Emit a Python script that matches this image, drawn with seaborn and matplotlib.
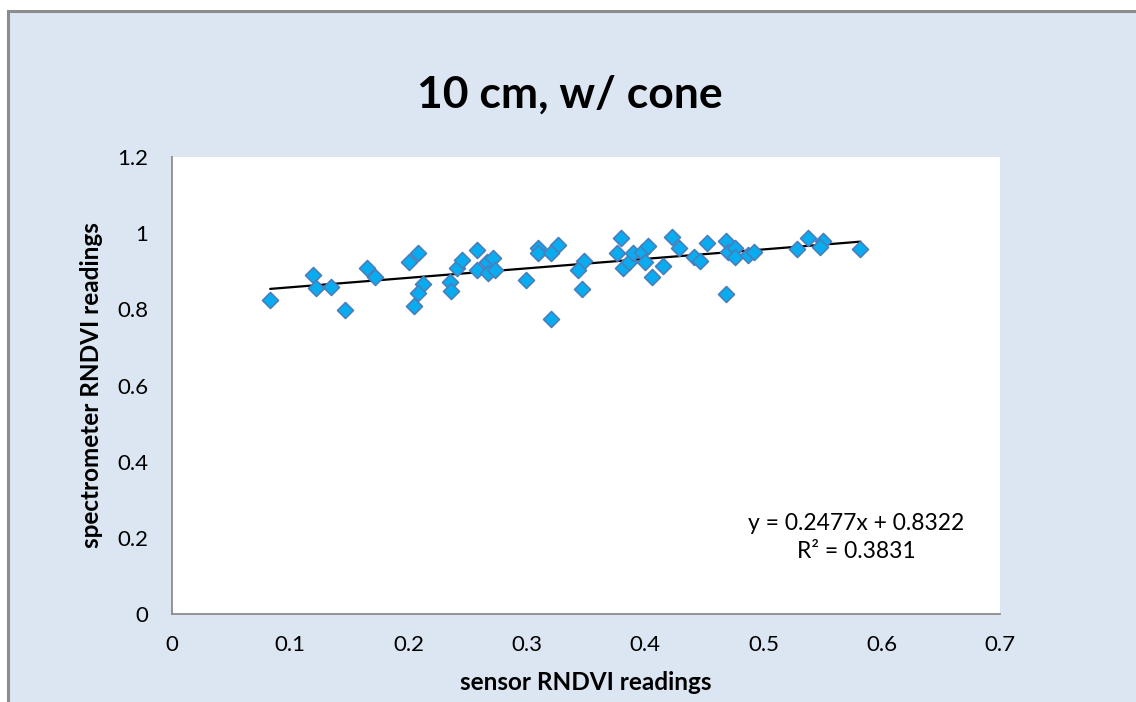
import matplotlib
matplotlib.use("Agg")
import matplotlib.pyplot as plt
from matplotlib.patches import Rectangle
import seaborn as sns
import pandas as pd

# ---- data ----
sensor_rndvi = [
    0.083, 0.119, 0.122, 0.134, 0.146, 0.165, 0.172, 0.200, 0.208, 0.212,
    0.208, 0.205, 0.235, 0.236, 0.241, 0.245, 0.258, 0.258, 0.266, 0.271,
    0.267, 0.273, 0.299, 0.309, 0.309, 0.326, 0.320, 0.320, 0.348, 0.343,
    0.347, 0.380, 0.376, 0.381, 0.386, 0.390, 0.397, 0.402, 0.400, 0.406,
    0.415, 0.423, 0.429, 0.441, 0.446, 0.452, 0.468, 0.470, 0.468, 0.476,
    0.476, 0.487, 0.492, 0.528, 0.538, 0.550, 0.548, 0.582,
]
spectrometer_rndvi = [
    0.825, 0.890, 0.855, 0.858, 0.798, 0.909, 0.886, 0.925, 0.949, 0.866,
    0.842, 0.809, 0.873, 0.848, 0.908, 0.930, 0.956, 0.903, 0.924, 0.935,
    0.895, 0.903, 0.877, 0.961, 0.948, 0.969, 0.948, 0.775, 0.927, 0.903,
    0.853, 0.987, 0.948, 0.909, 0.924, 0.948, 0.951, 0.966, 0.924, 0.885,
    0.914, 0.990, 0.961, 0.937, 0.927, 0.974, 0.979, 0.951, 0.840, 0.961,
    0.937, 0.943, 0.951, 0.958, 0.987, 0.979, 0.964, 0.958,
]
title = "10 cm, w/ cone"
x_label = "sensor RNDVI readings"
y_label = "spectrometer RNDVI readings"
equation = "y = 0.2477x + 0.8322"
r_squared = "R² = 0.3831"
x_ticks = [0, 0.1, 0.2, 0.3, 0.4, 0.5, 0.6, 0.7]
x_tick_labels = ["0", "0.1", "0.2", "0.3", "0.4", "0.5", "0.6", "0.7"]
y_ticks = [0, 0.2, 0.4, 0.6, 0.8, 1.0, 1.2]
y_tick_labels = ["0", "0.2", "0.4", "0.6", "0.8", "1", "1.2"]

df = pd.DataFrame({"sensor": sensor_rndvi, "spectrometer": spectrometer_rndvi})

sns.set_theme(style="white")
plt.rcParams["font.family"] = ["Lato", "DejaVu Sans"]
plt.rcParams["text.color"] = "black"
plt.rcParams["axes.labelcolor"] = "black"

W, H = 1136, 702
fig = plt.figure(figsize=(W / 100, H / 100), dpi=100)
fig.patch.set_facecolor("white")

# outer chart-area panel with grey border on top/left
fig.patches.append(Rectangle((7.5 / W, -0.05), 1.2, (H - 10.5) / H + 0.05,
                             transform=fig.transFigure, facecolor="#DCE6F2",
                             edgecolor="#8C8C8C", linewidth=2.2, zorder=-5))

ax = fig.add_axes([172 / W, (H - 614) / H, (1000 - 172) / W, (614 - 157) / H])
ax.set_zorder(2)
ax.set_facecolor("white")

sns.regplot(data=df, x="sensor", y="spectrometer", ax=ax, scatter=False,
            ci=None, color="black", line_kws={"linewidth": 1.6, "zorder": 2})
sns.scatterplot(data=df, x="sensor", y="spectrometer", ax=ax, marker="D",
                s=66, color="#0AACF0", edgecolor="#4A7EBB", linewidth=1.2,
                zorder=3)

ax.set_xlim(0, 0.7)
ax.set_ylim(0, 1.2)
ax.set_xticks(x_ticks)
ax.set_xticklabels(x_tick_labels)
ax.set_yticks(y_ticks)
ax.set_yticklabels(y_tick_labels)
ax.tick_params(axis="both", labelsize=16, colors="#8C8C8C", labelcolor="black",
               direction="out", length=7, width=1.2)
ax.tick_params(axis="x", pad=8)
ax.tick_params(axis="y", pad=10)

for side in ("top", "right"):
    ax.spines[side].set_visible(False)
for side in ("left", "bottom"):
    ax.spines[side].set_color("#8C8C8C")
    ax.spines[side].set_linewidth(1.3)

ax.set_xlabel(x_label, fontsize=17.5, fontweight="bold", labelpad=12, color="black")
ax.set_ylabel(y_label, fontsize=17.5, fontweight="bold", labelpad=10, color="black")

fig.text(570 / W, 1 - 95 / H, title, fontsize=32, fontweight="bold",
         ha="center", va="center", color="black")
ax.text(856 / W, 1 - 523 / H, equation, fontsize=16.5, ha="center", va="center",
        transform=fig.transFigure, zorder=5, color="black")
ax.text(856 / W, 1 - 552 / H, r_squared, fontsize=16.5, ha="center", va="center",
        transform=fig.transFigure, zorder=5, color="black")

fig.savefig("out.png", dpi=100, facecolor=fig.get_facecolor())
